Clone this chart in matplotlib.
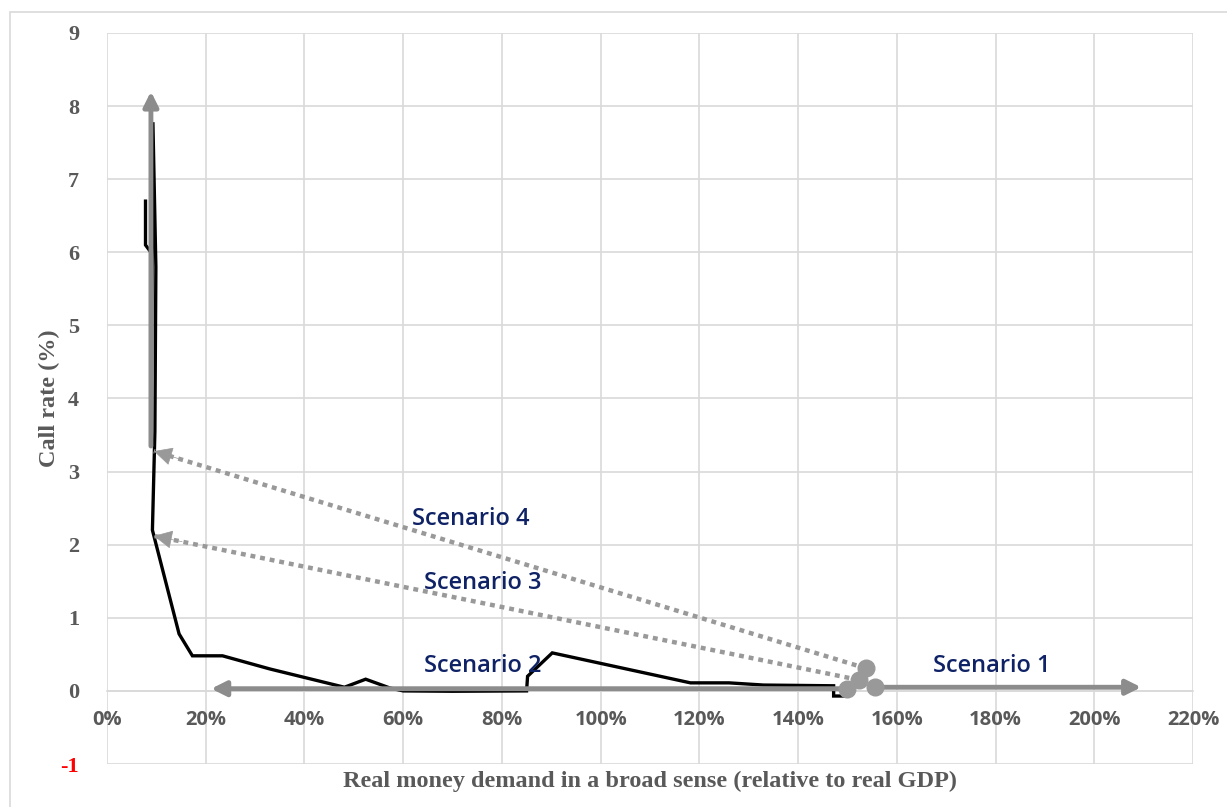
import matplotlib
matplotlib.use("Agg")
import matplotlib.pyplot as plt
from matplotlib.patches import Rectangle
from matplotlib.ticker import FuncFormatter

plt.rcParams["axes.unicode_minus"] = False

# ---- data ----
money_k = [7.8, 7.8, 8.9, 8.9, 9.3, 9.9, 9.7, 9.2, 14.6, 17.3, 23.4, 33.0, 48.1, 52.4,
           57.3, 60.0, 70.0, 85.0, 85.2, 90.2, 118.2, 126.0, 133.0, 147.2, 147.2, 150.0]
call_rate = [6.7, 6.1, 6.0, 3.4, 7.78, 5.8, 3.55, 2.2, 0.78, 0.48, 0.48, 0.30, 0.05, 0.16,
             0.04, 0.0, -0.005, 0.0, 0.2, 0.52, 0.11, 0.11, 0.08, 0.07, -0.07, -0.07]

scenario_names = ["Scenario 1", "Scenario 2", "Scenario 3", "Scenario 4"]
scen_start_x = [155.5, 150.0, 152.3, 153.7]
scen_start_y = [0.05, 0.03, 0.15, 0.31]
scen_end_x = [209.5, 21.1, 9.5, 9.5]
scen_end_y = [0.05, 0.03, 2.12, 3.28]
scen_dotted = [False, False, True, True]
label_x = [179.3, 76.1, 76.1, 73.7]
label_y = [0.34, 0.34, 1.48, 2.35]

vert_x = [8.9, 8.9]
vert_y = [3.35, 8.2]

x_ticks = list(range(0, 221, 20))
y_ticks = list(range(-1, 10))

# ---- figure ----
fig = plt.figure(figsize=(12.27, 8.07), dpi=100)
fig.patches.append(Rectangle((10 / 1227, -0.05), 1.2, 1 - 12 / 807 + 0.05,
                             transform=fig.transFigure, fill=False,
                             edgecolor="#D9D9D9", lw=1.2))
ax = fig.add_axes([107 / 1227, 1 - 764 / 807, (1193 - 107) / 1227, (764 - 33) / 807])

grid_c = "#D9D9D9"
ax.set_xlim(0, 220)
ax.set_ylim(-1, 9)
ax.set_xticks(x_ticks)
ax.set_yticks(y_ticks)
ax.grid(True, color=grid_c, lw=1.2)
ax.set_axisbelow(True)
for s in ["top", "right", "left"]:
    ax.spines[s].set_visible(False)
ax.spines["bottom"].set_position(("data", 0))
ax.spines["bottom"].set_color(grid_c)
ax.spines["bottom"].set_linewidth(1.2)
ax.tick_params(length=0)
ax.tick_params(axis="x", pad=14)
ax.tick_params(axis="y", pad=20)

ax.xaxis.set_major_formatter(FuncFormatter(lambda v, p: f"{int(v)}%"))
for lab in ax.get_xticklabels():
    lab.set_fontfamily("Open Sans")
    lab.set_fontweight("bold")
    lab.set_fontsize(14.5)
    lab.set_color("#595959")
for lab, v in zip(ax.get_yticklabels(), y_ticks):
    lab.set_fontfamily("Liberation Serif")
    lab.set_fontweight("bold")
    lab.set_fontsize(16)
    lab.set_color("#FF0000" if v < 0 else "#595959")

ax.set_ylabel("Call rate (%)", fontfamily="Liberation Serif", fontweight="bold",
              fontsize=17.5, color="#595959")
ax.yaxis.set_label_coords(-47 / 1086, 0.5)
ax.set_xlabel("Real money demand in a broad sense (relative to real GDP)",
              fontfamily="Liberation Serif", fontweight="bold", fontsize=17.5,
              color="#595959")
ax.xaxis.set_label_coords(0.5, -17 / 731)
ax.xaxis.label.set_va("center")

# main curve
ax.plot(money_k, call_rate, color="black", lw=2.4, zorder=3, solid_joinstyle="miter")

gray = "#8C8C8C"
# vertical arrow
ax.annotate("", xy=(vert_x[1], vert_y[1]), xytext=(vert_x[0], vert_y[0]),
            arrowprops=dict(arrowstyle="-|>", color=gray, lw=3.5, mutation_scale=22,
                            shrinkA=0, shrinkB=0), zorder=4)

for name, sx, sy, ex, ey, dotted, lx, ly in zip(scenario_names, scen_start_x, scen_start_y,
                                                 scen_end_x, scen_end_y, scen_dotted,
                                                 label_x, label_y):
    if dotted:
        ax.plot([sx, ex], [sy, ey], color="#999999", lw=3.2, ls=(0, (1.1, 1.1)), zorder=4)
        ax.annotate("", xy=(ex, ey), xytext=(ex + (sx - ex) * 0.04, ey + (sy - ey) * 0.04),
                    arrowprops=dict(arrowstyle="-|>", color="#999999", lw=0.5,
                                    mutation_scale=30, shrinkA=0, shrinkB=0), zorder=4)
    else:
        ax.annotate("", xy=(ex, ey), xytext=(sx, sy),
                    arrowprops=dict(arrowstyle="-|>", color=gray, lw=3.5,
                                    mutation_scale=22, shrinkA=0, shrinkB=0), zorder=4)
    ax.plot([sx], [sy], "o", color="#999999", ms=12, zorder=5)
    ax.text(lx, ly, name, fontfamily="Open Sans", fontweight="semibold", fontsize=17,
            color="#0F2266", ha="center", va="center", zorder=6)

fig.savefig("out.png", dpi=100)
